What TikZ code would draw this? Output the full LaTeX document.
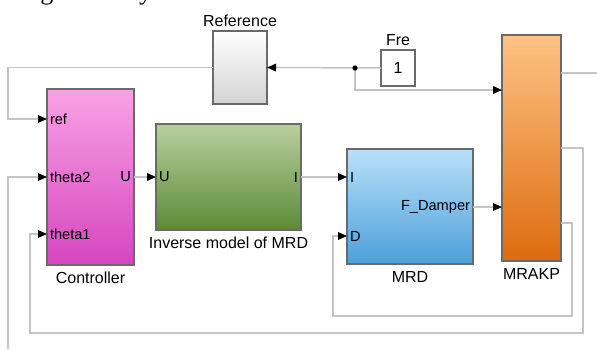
\documentclass[tikz,border=0pt]{standalone}
\usepackage{fontspec}
\setmainfont{Liberation Sans}
\newfontfamily\paperfont{Liberation Serif}
\usetikzlibrary{positioning}
\usetikzlibrary{arrows.meta, fit, calc}
\definecolor{wiregray}{HTML}{C4C4C4}
\definecolor{edgegray}{HTML}{6A6A6A}
\definecolor{ctrltop}{HTML}{F8A2E6}
\definecolor{ctrlbot}{HTML}{D645BE}
\definecolor{invtop}{HTML}{B9D0A0}
\definecolor{invbot}{HTML}{5C8A36}
\definecolor{mrdtop}{HTML}{B9E1FA}
\definecolor{mrdbot}{HTML}{4C9FDA}
\definecolor{mrakptop}{HTML}{FDC385}
\definecolor{mrakpbot}{HTML}{DE6B0E}
\tikzset{
	every node/.style={outer sep=0pt},
	blk/.style={draw=edgegray, line width=0.6pt, inner sep=0pt},
	ctrlblk/.style={blk, top color=ctrltop, bottom color=ctrlbot},
	invblk/.style={blk, top color=invtop, bottom color=invbot},
	mrdblk/.style={blk, top color=mrdtop, bottom color=mrdbot},
	mrakpblk/.style={blk, top color=mrakptop, bottom color=mrakpbot},
	refblk/.style={blk, top color=white, bottom color=black!17},
	constblk/.style={blk, fill=white},
	port/.style={inner xsep=1.5pt, inner ysep=0pt, font=\fontsize{7.3}{8}\selectfont},
	blklabel/.style={font=\fontsize{8}{9}\selectfont, inner sep=2pt},
	sublabel/.style={blklabel, inner sep=3.5pt},
	wire/.style={draw=wiregray, line width=0.75pt},
	tip/.style={wire, -{Triangle[color=black, length=4.5pt, width=3.8pt]}},
	dot/.style={circle, fill=black, inner sep=0pt, minimum size=2.6pt}
}

\begin{document}
\begin{tikzpicture}[x=0.5pt, y=-0.5pt]
	\useasboundingbox (0,0) rectangle (597,349);
	% cut text of the page
	\node (cut) [anchor=base east, font=\paperfont\fontsize{13}{14}\selectfont, inner sep=0pt] at (157,-1) {changes widely.};
	
	% blocks
	\node (refb) [refblk, fit={(213,31)(267,104)}, label={[blklabel]above:Reference}] {};
	\node (fre) [constblk, fit={(381,50)(415,86)}, label={[blklabel]above:Fre}] {};
	\node (one) [blklabel] at (fre.center) {1};
	\node (ctrl) [ctrlblk, fit={(47,89)(134,265)}, label={[sublabel]below:Controller}] {};
	\node (inv) [invblk, fit={(156,124)(301,230)}, label={[sublabel]below:Inverse model of MRD}] {};
	\node (mrd) [mrdblk, fit={(347,149)(473,264)}, label={[sublabel]below:MRD}] {};
	\node (mrakp) [mrakpblk, fit={(502,35)(561,261)}, label={[sublabel]below:MRAKP}] {};
	
	% ports
	\node (c-ref) [port, anchor=west] at (47,119) {ref};
	\node (c-th2) [port, anchor=west] at (47,177) {theta2};
	\node (c-th1) [port, anchor=west] at (47,234) {theta1};
	\node (c-u) [port, anchor=east] at (134,177) {U};
	\node (i-u) [port, anchor=west] at (156,177) {U};
	\node (i-i) [port, anchor=east] at (301,177) {I};
	\node (m-i) [port, anchor=west] at (347,177) {I};
	\node (m-d) [port, anchor=west] at (347,236) {D};
	\node (m-f) [port, anchor=east] at (473,207) {F\_Damper};
	\coordinate (k-fre) at (502,90);
	\coordinate (k-f) at (502,207);
	\coordinate (k-o1) at (561,73);
	\coordinate (k-o2) at (561,148);
	\coordinate (k-o3) at (561,223);
	\coordinate (out) at (597,73);
	\coordinate (fb) at (8,349);
	\coordinate (br) at (355,68);
	
	% wires
	\path[tip] (fre.west) -- (refb.east);
	\path[tip] (br) |- (k-fre);
	\path[tip] (refb.west) -| (8,119) -- (c-ref.west);
	\path[tip] (c-u.east) -- (i-u.west);
	\path[tip] (i-i.east) -- (m-i.west);
	\path[tip] (m-f.east) -- (k-f);
	\path[tip] (k-o3) -| (572,316) -| (333,236) -- (m-d.west);
	\path[tip] (k-o2) -| (583,333) -| (30,234) -- (c-th1.west);
	\path[tip] (fb) |- (c-th2.west);
	\path[wire] (k-o1) -- (out);
	\node (brdot) [dot] at (br) {};
	
\end{tikzpicture}
\end{document}
